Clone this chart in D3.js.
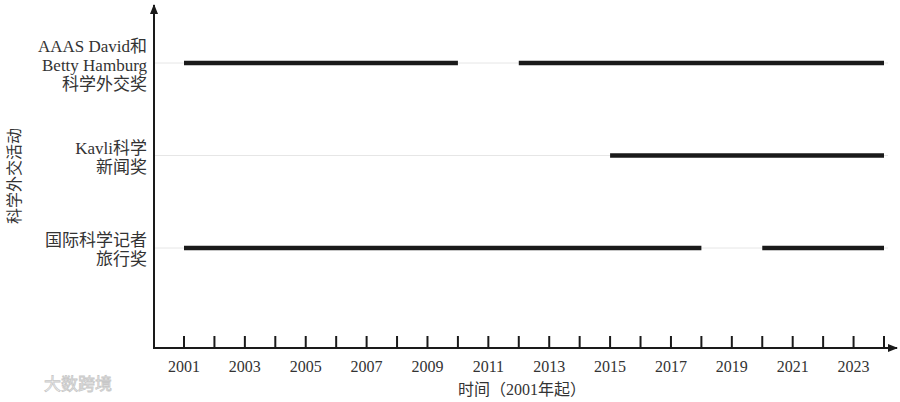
<!DOCTYPE html>
<html>
<head>
<meta charset="utf-8">
<script src="https://cdn.jsdelivr.net/npm/d3@7"></script>
<style>
  body { margin: 0; background: #fff; }
  text { font-family: "Liberation Serif", "Noto Sans CJK SC", serif; fill: #333; }
  .grid { stroke: #e6e6e6; stroke-width: 1; }
  .bar { stroke: #1a1a1a; stroke-width: 4.5; }
  .axis { stroke: #1a1a1a; stroke-width: 2; }
</style>
</head>
<body>
<script>
// award programmes, top to bottom
var programs = ["AAAS David和 Betty Hamburg 科学外交奖", "Kavli科学 新闻奖", "国际科学记者 旅行奖"];
var programLines = [
  ["AAAS David和", "Betty Hamburg", "科学外交奖"],
  ["Kavli科学", "新闻奖"],
  ["国际科学记者", "旅行奖"]
];
// active periods [start, end] per programme
var periods = [
  [[2001, 2010], [2012, 2024]],
  [[2015, 2024]],
  [[2001, 2018], [2020, 2024]]
];
var tickYears = d3.range(2001, 2025);
var labelYears = [2001, 2003, 2005, 2007, 2009, 2011, 2013, 2015, 2017, 2019, 2021, 2023];

var width = 900, height = 402;
var axisX = 154, axisY = 348;

var x = d3.scaleLinear()
    .domain([2001, 2024])
    .range([184, 884]);

var y = d3.scalePoint()
    .domain(programs)
    .range([63, 248]);

var svg = d3.select("body").append("svg")
    .attr("width", width)
    .attr("height", height);

var defs = svg.append("defs");
defs.append("marker")
    .attr("id", "arrow")
    .attr("viewBox", "0 0 10 10")
    .attr("refX", 9).attr("refY", 5)
    .attr("markerWidth", 5).attr("markerHeight", 5)
    .attr("orient", "auto")
  .append("path")
    .attr("d", "M0,1L10,5L0,9z")
    .attr("fill", "#1a1a1a");

// thin row guides
svg.selectAll(".grid")
    .data(programs)
    .enter().append("line")
    .attr("class", "grid")
    .attr("x1", axisX).attr("x2", x(2024) + 4)
    .attr("y1", function(d) { return y(d); })
    .attr("y2", function(d) { return y(d); });

// period bars
var rows = svg.selectAll(".row")
    .data(programs)
    .enter().append("g")
    .attr("class", "row");

rows.selectAll(".bar")
    .data(function(d, i) { return periods[i].map(function(p) { return {p: p, row: d}; }); })
    .enter().append("line")
    .attr("class", "bar")
    .attr("x1", function(d) { return x(d.p[0]); })
    .attr("x2", function(d) { return x(d.p[1]); })
    .attr("y1", function(d) { return y(d.row); })
    .attr("y2", function(d) { return y(d.row); });

// row labels
rows.each(function(d, i) {
  var lines = programLines[i];
  var lh = 19;
  var top = y(d) + 2 - (lines.length - 1) * lh / 2;
  var t = d3.select(this).append("text")
      .attr("text-anchor", "end")
      .attr("font-size", 17);
  lines.forEach(function(s, j) {
    t.append("tspan")
      .attr("x", 147)
      .attr("y", top + j * lh)
      .attr("dy", "0.35em")
      .text(s);
  });
});

// axes
svg.append("line")
    .attr("class", "axis")
    .attr("x1", axisX).attr("y1", axisY + 1)
    .attr("x2", axisX).attr("y2", 5)
    .attr("marker-end", "url(#arrow)");

svg.append("line")
    .attr("class", "axis")
    .attr("x1", axisX - 1).attr("y1", axisY)
    .attr("x2", 897).attr("y2", axisY)
    .attr("marker-end", "url(#arrow)");

svg.selectAll(".tick")
    .data(tickYears)
    .enter().append("line")
    .attr("class", "axis")
    .attr("x1", function(d) { return x(d); })
    .attr("x2", function(d) { return x(d); })
    .attr("y1", axisY)
    .attr("y2", axisY - 12);

svg.selectAll(".tlabel")
    .data(labelYears)
    .enter().append("text")
    .attr("x", function(d) { return x(d); })
    .attr("y", 372)
    .attr("text-anchor", "middle")
    .attr("font-size", 16)
    .text(function(d) { return d; });

// axis titles
svg.append("text")
    .attr("x", 522).attr("y", 395)
    .attr("text-anchor", "middle")
    .attr("font-size", 16)
    .text("时间（2001年起）");

svg.append("text")
    .attr("transform", "translate(20,176) rotate(-90)")
    .attr("text-anchor", "middle")
    .attr("font-size", 16)
    .text("科学外交活动");

// watermark
svg.append("text")
    .attr("x", 44).attr("y", 390)
    .attr("font-size", 17)
    .attr("font-family", "Noto Sans CJK SC")
    .style("fill", "#f4f4f4")
    .style("stroke", "#c8c8c8")
    .style("stroke-width", 0.8)
    .text("大数跨境");
</script>
</body>
</html>
